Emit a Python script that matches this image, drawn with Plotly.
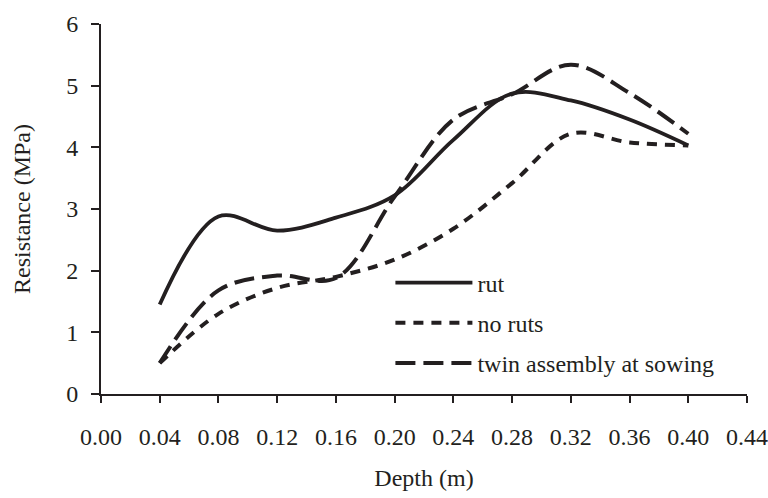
import plotly.graph_objects as go

depth = [0.04, 0.08, 0.12, 0.16, 0.20, 0.24, 0.28, 0.32, 0.36, 0.40]
rut = [1.45, 2.88, 2.65, 2.86, 3.22, 4.12, 4.87, 4.76, 4.45, 4.03]
no_ruts = [0.50, 1.30, 1.72, 1.90, 2.18, 2.68, 3.42, 4.22, 4.08, 4.03]
twin = [0.50, 1.68, 1.92, 1.88, 3.20, 4.45, 4.86, 5.34, 4.88, 4.22]

x_ticks = [0.00, 0.04, 0.08, 0.12, 0.16, 0.20, 0.24, 0.28, 0.32, 0.36, 0.40, 0.44]
y_ticks = [0, 1, 2, 3, 4, 5, 6]

ink = "#231f20"
font = "Liberation Serif"
fs = 24

fig = go.Figure()
fig.add_trace(go.Scatter(x=depth, y=rut, name="rut", mode="lines", legendgroup="a",
                         line=dict(color=ink, width=3.8, shape="spline", smoothing=1)))
fig.add_trace(go.Scatter(x=depth, y=no_ruts, name="no ruts", mode="lines", legendgroup="b",
                         line=dict(color=ink, width=4, dash="10px,8px", shape="spline", smoothing=1)))
fig.add_trace(go.Scatter(x=depth, y=twin, name="twin assembly at sowing", mode="lines", legendgroup="c",
                         line=dict(color=ink, width=4, dash="20px,8px", shape="spline", smoothing=1)))

fig.update_layout(
    width=768, height=498,
    margin=dict(l=101, r=21, t=24, b=104),
    paper_bgcolor="white", plot_bgcolor="white",
    font=dict(family=font, size=fs, color=ink),
    legend=dict(x=0.448, y=0.361, xanchor="left", yanchor="top", bgcolor="rgba(0,0,0,0)",
                tracegroupgap=6, itemwidth=77, font=dict(size=fs)),
    xaxis=dict(range=[0, 0.44], tickvals=x_ticks, ticktext=[f"{v:.2f}" for v in x_ticks],
               showgrid=False, zeroline=False, showline=True, linecolor=ink, linewidth=2,
               ticks="outside", ticklen=7, tickwidth=2, tickcolor=ink,
               ticklabelstandoff=13, automargin=False,
               title=dict(text="Depth (m)", standoff=20, font=dict(size=fs))),
    yaxis=dict(range=[0, 6], tickvals=y_ticks, showgrid=False, zeroline=False,
               showline=True, linecolor=ink, linewidth=2,
               ticks="outside", ticklen=8, tickwidth=2, tickcolor=ink,
               ticklabelstandoff=8, automargin=False,
               title=dict(text="Resistance (MPa)", standoff=29, font=dict(size=fs))),
)

fig.write_html("out.html", config={"displayModeBar": False},
               post_script="document.body.style.margin='0';document.body.style.padding='0';")
